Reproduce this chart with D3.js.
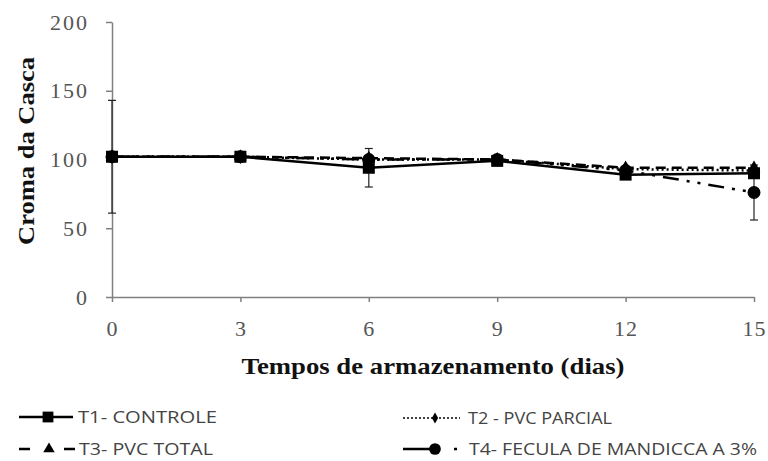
<!DOCTYPE html>
<html>
<head>
<meta charset="utf-8">
<script src="https://cdn.jsdelivr.net/npm/d3@7/dist/d3.min.js"></script>
<style>
  body { margin:0; background:#fff; }
  svg { display:block; }
  .axis path, .axis line { stroke:#808080; stroke-width:1.5; }
</style>
</head>
<body>
<div id="chart"></div>
<script>

var days = [0, 3, 6, 9, 12, 15];
var yTicks = [0, 50, 100, 150, 200];

var t1 = [102, 102, 94, 99, 89, 90];
var t2 = [102, 102, 100, 100, 93, 92];
var t3 = [102, 102, 101, 100, 94, 94];
var t4 = [102, 102, 100, 100, 92, 76];

// error (half width) per point
var t1Err = [41, 1, 14, 2, 3, 2];
var t4Err = [1, 1, 2, 2, 2, 20];

var names = ['T1- CONTROLE', 'T2 - PVC PARCIAL', 'T3- PVC TOTAL', 'T4- FECULA DE MANDICCA A 3%'];

var W = 768, H = 461;
var margin = {top:22, left:112, right:14, bottom:164};
var serif = '"Liberation Serif","DejaVu Serif",serif';

var svg = d3.select('#chart').append('svg')
	.attr('width', W)
	.attr('height', H);

var x = d3.scaleLinear().domain([0, 15]).range([margin.left, W - margin.right]);
var y = d3.scaleLinear().domain([0, 200]).range([H - margin.bottom, margin.top]);

// axes
svg.append('g')
	.attr('class','axis')
	.attr('transform','translate(0,' + y(0) + ')')
	.call(d3.axisBottom(x).tickValues(days).tickSize(5).tickPadding(18).tickSizeOuter(0))
	.call(function(g){
		g.selectAll('text')
			.style('font-family', serif).style('font-size','22px').style('fill','#555')
			.style('letter-spacing','1px');
	});

svg.append('g')
	.attr('class','axis')
	.attr('transform','translate(' + x(0) + ',0)')
	.call(d3.axisLeft(y).tickValues(yTicks).tickSize(6).tickPadding(17).tickSizeOuter(0))
	.call(function(g){
		g.selectAll('text')
			.style('font-family', serif).style('font-size','22px').style('fill','#555')
			.style('letter-spacing','2px');
	});

// axis titles
svg.append('text')
	.attr('transform','translate(34,151) rotate(-90)')
	.attr('text-anchor','middle')
	.attr('textLength', 188)
	.attr('lengthAdjust','spacingAndGlyphs')
	.style('font-family', serif)
	.style('font-weight','bold')
	.style('font-size','23px')
	.style('fill','#111')
	.text('Croma da Casca');

svg.append('text')
	.attr('x', 433)
	.attr('y', 374)
	.attr('text-anchor','middle')
	.attr('textLength', 383)
	.attr('lengthAdjust','spacingAndGlyphs')
	.style('font-family', serif)
	.style('font-weight','bold')
	.style('font-size','23px')
	.style('fill','#111')
	.text('Tempos de armazenamento (dias)');

// error bars
function errBars(vals, errs) {
	var g = svg.append('g').attr('stroke','#222').attr('stroke-width',1.2);
	vals.forEach(function(v, i){
		var e = errs[i];
		g.append('line').attr('x1', x(days[i])).attr('x2', x(days[i]))
			.attr('y1', y(v + e)).attr('y2', y(v - e));
		[v + e, v - e].forEach(function(w){
			g.append('line').attr('x1', x(days[i]) - 4).attr('x2', x(days[i]) + 4)
				.attr('y1', y(w)).attr('y2', y(w));
		});
	});
}
errBars(t1, t1Err);
errBars(t4, t4Err);

var line = d3.line()
	.x(function(d,i){ return x(days[i]); })
	.y(function(d){ return y(d); });

var series = [
	{ vals:t4, dash:'16,8,3,8,3,8', marker:'circle' },
	{ vals:t2, dash:'2,3', marker:'diamond' },
	{ vals:t3, dash:'10,6', marker:'triangle' },
	{ vals:t1, dash:null, marker:'square' }
];

function drawMarker(g, type, cx, cy, s) {
	if (type === 'square') {
		g.append('rect').attr('x', cx - 6*s).attr('y', cy - 6*s)
			.attr('width', 12*s).attr('height', 12*s).attr('fill','#000');
	} else if (type === 'circle') {
		g.append('circle').attr('cx', cx).attr('cy', cy).attr('r', 6.5*s).attr('fill','#000');
	} else if (type === 'diamond') {
		g.append('path').attr('d', d3.symbol(d3.symbolDiamond, 60*s*s)())
			.attr('transform','translate(' + cx + ',' + cy + ')').attr('fill','#000');
	} else {
		g.append('path').attr('d', d3.symbol(d3.symbolTriangle, 70*s*s)())
			.attr('transform','translate(' + cx + ',' + cy + ')').attr('fill','#000');
	}
}

series.forEach(function(s){
	svg.append('path')
		.datum(s.vals)
		.attr('d', line)
		.attr('fill','none')
		.attr('stroke','#000')
		.attr('stroke-width', 2.5)
		.attr('stroke-dasharray', s.dash);
	var g = svg.append('g');
	s.vals.forEach(function(v, i){ drawMarker(g, s.marker, x(days[i]), y(v), 1); });
});

// legend
var leg = svg.append('g');
var legItems = [
	{ name:names[0], marker:'square', mx:48, ly:417, tx:78, tw:139 },
	{ name:names[1], marker:'diamond', mx:435, ly:418, tx:468, tw:144 },
	{ name:names[2], marker:'triangle', mx:49, ly:449, tx:79, tw:134 },
	{ name:names[3], marker:'circle', mx:435, ly:449, tx:469, tw:288 }
];

// legend line samples
leg.append('line').attr('x1',19).attr('x2',73).attr('y1',417).attr('y2',417)
	.attr('stroke','#000').attr('stroke-width',2.5);
leg.append('line').attr('x1',403).attr('x2',460).attr('y1',418).attr('y2',418)
	.attr('stroke','#000').attr('stroke-width',1.5).attr('stroke-dasharray','2,2');
leg.append('line').attr('x1',19).attr('x2',75).attr('y1',449).attr('y2',449)
	.attr('stroke','#000').attr('stroke-width',2.5).attr('stroke-dasharray','11,34,11');
leg.append('line').attr('x1',403).attr('x2',458).attr('y1',449).attr('y2',449)
	.attr('stroke','#000').attr('stroke-width',2.5).attr('stroke-dasharray','34,17,3,10');

legItems.forEach(function(d){
	drawMarker(leg, d.marker, d.mx, d.ly, d.marker === 'diamond' ? 0.75 : 0.9);
	leg.append('text')
		.attr('x', d.tx)
		.attr('y', d.ly + 6)
		.attr('textLength', d.tw)
		.attr('lengthAdjust','spacingAndGlyphs')
		.style('font-family','"Open Sans",sans-serif')
		.style('font-size','16.5px')
		.style('fill','#444')
		.text(d.name);
});

</script>
</body>
</html>
